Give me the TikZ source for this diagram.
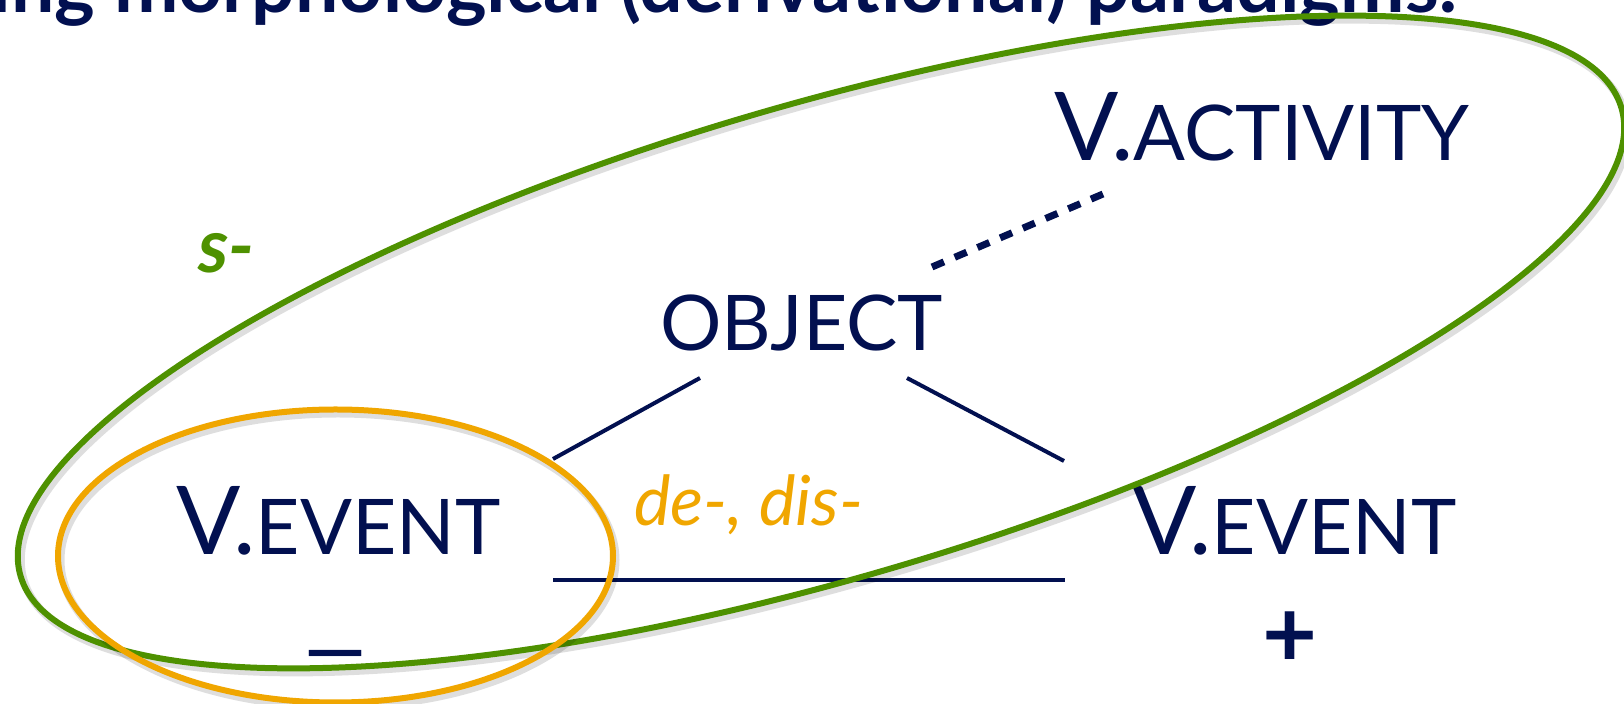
\documentclass[tikz,border=0pt]{standalone}
\usepackage{fontspec}
\setmainfont{Lato}
\definecolor{navy}{RGB}{2,16,80}
\definecolor{lgreen}{RGB}{78,145,0}
\definecolor{lorange}{RGB}{240,166,0}
\newcommand\BigSz{\fontsize{47.5}{50}\selectfont}
\newcommand\SmSz{\fontsize{38.4}{40}\selectfont}
\begin{document}
\begin{tikzpicture}[x=0.5pt,y=-0.5pt,
  txt/.style={inner sep=0pt, outer sep=0pt, text=navy},
  treeline/.style={draw=navy, line width=2pt},
  ring/.style={line width=3pt},
  shade/.style={draw=black, opacity=0.13, line width=4pt}]
\useasboundingbox (0,0) rectangle (1624,704);
\clip (0,0) rectangle (1624,704);
% heading (cut off at top)
\node[txt, anchor=base east, font=\bfseries\fontsize{38.5}{40}\selectfont] (title) at (1458,13) {ing morphological (derivational) paradigms:};
% labels
\node[txt, anchor=base west] (vact) at (1054,161) {\BigSz V.\SmSz ACTIVITY};
\node[txt, anchor=base west] (obj) at (660,351) {\SmSz OBJECT};
\node[txt, anchor=base west] (vevl) at (176,555) {\BigSz V.\SmSz EVENT};
\node[txt, anchor=base west] (vevr) at (1132,555) {\BigSz V.\SmSz EVENT};
\node[txt, anchor=base west, text=lgreen, font=\bfseries\itshape\fontsize{37.5}{40}\selectfont] (sfx) at (198,273) {s-};
\node[txt, anchor=base west, text=lorange, font=\itshape\fontsize{34.5}{36}\selectfont] (dedis) at (634,526) {de-, dis-};
\node[txt, anchor=base] (minus) at (336,682) {\BigSz\scalebox{1.38}[1]{–}};
\node[txt, anchor=base, font=\bfseries] (plus) at (1290,668) {\BigSz +};
% connector end points
\coordinate (objL) at (700,378);
\coordinate (evL) at (553,459);
\coordinate (objR) at (907,378);
\coordinate (evR) at (1064,461);
\coordinate (hL) at (553,580);
\coordinate (hR) at (1065,580);
\coordinate (dotA) at (932,267);
\coordinate (dotB) at (1103,194);
\draw[treeline] (objL) -- (evL);
\draw[treeline] (objR) -- (evR);
\draw[treeline] (hL) -- (hR);
\draw[draw=navy, line width=3.5pt, dash pattern=on 6.5pt off 5.85pt] (dotA) -- (dotB);
% ellipses with soft shadow
\draw[shade, rotate around={16.3:(824,346)}] (824,346) ellipse [x radius=834, y radius=237];
\draw[ring, draw=lgreen, rotate around={16.3:(821,342)}] (821,342) ellipse [x radius=834, y radius=237];
\draw[shade] (338,560) ellipse [x radius=277.5, y radius=146.5];
\draw[ring, draw=lorange] (335.5,556) ellipse [x radius=277.5, y radius=146.5];
\end{tikzpicture}
\end{document}
